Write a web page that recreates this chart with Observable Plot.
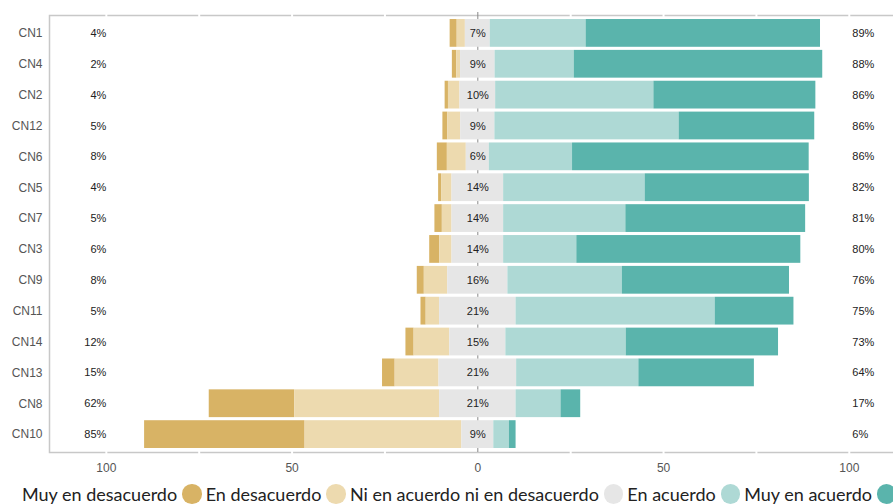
<!DOCTYPE html>
<html>
<head>
<meta charset="utf-8">
<script src="https://cdn.jsdelivr.net/npm/d3@7"></script>
<script src="https://cdn.jsdelivr.net/npm/@observablehq/plot@0.6"></script>
<style>
  html, body { margin: 0; padding: 0; background: #fff; overflow: hidden; }
  #chart svg { display: block; }
  #legend { display: flex; align-items: center; height: 24px; margin-top: 2px; padding-left: 22px;
            white-space: nowrap; font-family: Lato, "Open Sans", sans-serif; font-size: 18px; color: #222; }
  #legend .sw { display: inline-block; width: 19.5px; height: 19.5px; border-radius: 50%; margin: 0 4px 0 5px; flex: none; }
</style>
</head>
<body>
<div id="chart"></div>
<div id="legend"></div>
<script>
const categories = ["CN1","CN4","CN2","CN12","CN6","CN5","CN7","CN3","CN9","CN11","CN14","CN13","CN8","CN10"];
const levels = ["Muy en desacuerdo","En desacuerdo","Ni en acuerdo ni en desacuerdo","En acuerdo","Muy en acuerdo"];
const muyDesacuerdo = [1.9,1.2,0.9,1.3,2.7,0.8,2.0,2.7,1.9,1.4,2.2,3.4,23.0,43.2];
const desacuerdo    = [2.2,1.0,3.1,3.5,5.1,2.8,2.6,3.3,6.3,3.6,9.6,11.8,39.0,42.2];
const neutral       = [6.7,9.3,9.6,9.2,6.2,13.9,13.9,13.9,16.2,20.6,15.1,20.9,20.6,8.6];
const acuerdo       = [25.8,21.3,42.6,49.6,22.4,38.1,32.9,19.7,30.8,53.6,32.4,32.9,12.1,4.2];
const muyAcuerdo    = [63.1,66.9,43.6,36.5,63.7,44.2,48.4,60.3,45.0,21.2,41.0,31.1,5.3,1.8];
const xTicks = [-100,-50,0,50,100];
const gridTicks = [-100,-75,-50,-25,25,50,75,100];
const colors = ["#D8B365","#EDDAAF","#E6E6E6","#AED9D5","#5AB4AC"];

// build segments with neutral centred on zero
const segs = [];
const labels = [];
categories.forEach((c, i) => {
  const h = neutral[i] / 2;
  const d = desacuerdo[i], md = muyDesacuerdo[i], a = acuerdo[i], ma = muyAcuerdo[i];
  segs.push({cat: c, level: levels[0], x1: -(h + d + md), x2: -(h + d)});
  segs.push({cat: c, level: levels[1], x1: -(h + d), x2: -h});
  segs.push({cat: c, level: levels[2], x1: -h, x2: h});
  segs.push({cat: c, level: levels[3], x1: h, x2: h + a});
  segs.push({cat: c, level: levels[4], x1: h + a, x2: h + a + ma});
  labels.push({cat: c,
    left: Math.round(md + d) + "%",
    mid: Math.round(neutral[i]) + "%",
    right: Math.round(a + ma) + "%"});
});

const chart = Plot.plot({
  width: 893,
  height: 480,
  marginTop: 15,
  marginBottom: 28,
  marginLeft: 49,
  marginRight: 0,
  style: {fontFamily: "Arial, 'Liberation Sans', sans-serif", background: "#fff"},
  x: {domain: [-115.3, 111.9], axis: null},
  y: {domain: categories, paddingInner: 0.1, paddingOuter: 0.13, round: false, axis: null},
  color: {domain: levels, range: colors},
  marks: [
    Plot.frame({stroke: "#c8c8c8", strokeWidth: 1.5, insetRight: -2}),
    Plot.ruleX(gridTicks, {stroke: "#fff", strokeWidth: 2, insetTop: -2, insetBottom: -2}),
    Plot.ruleX([0], {stroke: "#888", strokeWidth: 1, insetTop: -3}),
    Plot.barX(segs, {x1: "x1", x2: "x2", y: "cat", fill: "level"}),
    Plot.text(labels, {x: -100, y: "cat", text: "left", textAnchor: "end", fontSize: 11, fill: "#222"}),
    Plot.text(labels, {x: 0, y: "cat", text: "mid", textAnchor: "middle", fontSize: 11, fill: "#222"}),
    Plot.text(labels, {x: 100, y: "cat", text: "right", textAnchor: "start", dx: 3, fontSize: 11, fill: "#222"}),
    Plot.axisY({tickSize: 0, tickPadding: 7, fontSize: 12, color: "#555", label: null}),
    Plot.axisX({ticks: xTicks, tickFormat: d => Math.abs(d), tickSize: 0, tickPadding: 11, fontSize: 12, color: "#555", label: null})
  ]
});
document.getElementById("chart").appendChild(chart);

const leg = document.getElementById("legend");
levels.forEach((l, i) => {
  const t = document.createElement("span");
  t.textContent = l;
  leg.appendChild(t);
  const s = document.createElement("span");
  s.className = "sw";
  s.style.background = colors[i];
  leg.appendChild(s);
});
</script>
</body>
</html>
